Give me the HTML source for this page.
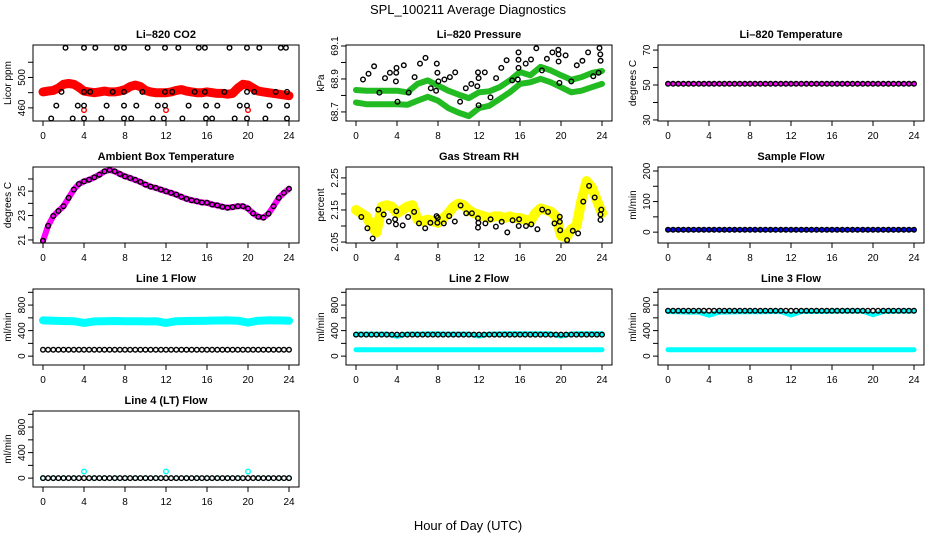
<!DOCTYPE html>
<html><head><meta charset="utf-8"><title>SPL_100211 Average Diagnostics</title>
<style>
html,body{margin:0;padding:0;background:#fff;}
svg{display:block;font-family:"Liberation Sans",Arial,sans-serif;}
</style></head>
<body>
<svg id="chart" width="936" height="540" viewBox="0 0 936 540" xmlns="http://www.w3.org/2000/svg">
<rect x="0" y="0" width="936" height="540" fill="#fff"/>
<text x="468" y="14" text-anchor="middle" font-size="13">SPL_100211  Average Diagnostics</text>
<text x="468" y="530" text-anchor="middle" font-size="13">Hour of Day (UTC)</text>
</svg>
<script>
const hours=[0,1,2,3,4,5,6,7,8,9,10,11,12,13,14,15,16,17,18,19,20,21,22,23,24];
const halfHours=[0,0.5,1,1.5,2,2.5,3,3.5,4,4.5,5,5.5,6,6.5,7,7.5,8,8.5,9,9.5,10,10.5,11,11.5,12,12.5,13,13.5,14,14.5,15,15.5,16,16.5,17,17.5,18,18.5,19,19.5,20,20.5,21,21.5,22,22.5,23,23.5,24];
const xTicks=[0,4,8,12,16,20,24];

// CO2
const co2Red=[481,482,483,486,491,492,491,487,482,481,480,481,482,481,481,482,484,488,490,488,483,481,480,480,480,481,483,484,482,481,480,480,481,480,479,479,478,479,486,491,490,486,482,481,480,479,478,477,476];
const co2RedOutHours=[4,12,20];
const co2RedOutVals=[457,457,457];
const co2BlackHours=[2.2,4.0,5.1,7.2,7.9,10.2,11.9,13.2,15.2,15.8,18.2,19.9,21.1,23.2,23.7,1.8,4.0,4.6,6.8,7.9,9.7,11.9,12.6,14.8,15.8,17.7,19.9,20.6,22.7,23.8,1.3,3.4,4.0,6.2,7.9,9.1,11.2,11.9,14.2,15.9,17.0,19.2,19.9,22.1,23.8,0.8,2.9,4.0,5.7,7.9,8.6,10.7,11.8,13.6,15.9,16.5,18.7,19.9,21.7,23.8];
const co2BlackVals=[539,539,539,539,539,539,539,539,539,539,539,539,539,539,539,481,481,481,481,481,481,481,481,481,481,481,481,481,481,481,463,463,463,463,463,463,463,463,463,463,463,463,463,463,463,446,446,446,446,446,446,446,446,446,446,446,446,446,446,446];

// Pressure
const presUpper=[68.833,68.829,68.829,68.829,68.829,68.819,68.870,68.891,68.860,68.829,68.805,68.784,68.819,68.825,68.850,68.891,68.942,68.922,68.973,68.952,68.922,68.895,68.911,68.936,68.948];
const presLower=[68.757,68.747,68.747,68.747,68.747,68.743,68.768,68.792,68.768,68.723,68.696,68.675,68.723,68.737,68.778,68.819,68.870,68.880,68.901,68.880,68.850,68.819,68.829,68.850,68.870];
const presBlackHours=[0.68,1.22,1.77,2.28,2.83,3.31,3.95,3.92,3.89,4.05,4.66,5.14,5.72,6.24,6.78,7.30,7.81,7.88,7.94,8.04,8.62,9.16,9.68,10.16,10.71,11.25,11.83,11.90,11.96,11.96,12.57,13.12,13.67,14.18,14.69,15.24,15.79,15.85,15.85,15.85,16.56,17.07,17.59,18.14,18.62,19.16,19.74,19.77,19.77,19.84,20.45,21.0,21.54,22.09,22.64,23.15,23.67,23.76,23.83,23.86];
const presBlackVals=[68.897,68.932,68.977,68.817,68.905,68.938,68.967,68.938,68.885,68.762,68.983,68.817,68.911,68.993,69.028,68.844,68.829,68.993,68.938,68.885,68.897,68.911,68.940,68.762,68.844,68.870,68.856,68.940,68.905,68.741,68.940,68.788,68.905,68.967,69.014,68.891,68.897,69.061,69.016,68.967,68.993,69.018,69.086,68.952,69.022,69.061,69.077,69.049,69.006,68.876,69.043,68.885,68.983,69.010,69.061,68.917,68.938,69.088,69.049,69.010];

// Li-820 temperature
const tempBand=[50.7,50.7,50.7,50.7,50.7,50.7,50.7,50.7,50.7,50.7,50.7,50.7,50.7,50.7,50.7,50.7,50.7,50.7,50.7,50.7,50.7,50.7,50.7,50.7,50.7];
const tempBlack=[50.7,50.7,50.7,50.7,50.7,50.7,50.7,50.7,50.7,50.7,50.7,50.7,50.7,50.7,50.7,50.7,50.7,50.7,50.7,50.7,50.7,50.7,50.7,50.7,50.7,50.7,50.7,50.7,50.7,50.7,50.7,50.7,50.7,50.7,50.7,50.7,50.7,50.7,50.7,50.7,50.7,50.7,50.7,50.7,50.7,50.7,50.7,50.7,50.7];

// Ambient box temperature
const ambient=[20.93,22.15,22.96,23.37,23.77,24.45,25.13,25.59,25.80,25.94,26.13,26.35,26.62,26.73,26.62,26.41,26.21,26.08,25.92,25.76,25.54,25.37,25.27,25.13,24.99,24.86,24.72,24.53,24.37,24.26,24.18,24.07,24.05,23.91,23.83,23.72,23.64,23.69,23.77,23.77,23.58,23.18,22.91,22.83,23.15,23.77,24.45,24.86,25.19];

// RH
const rhYellow=[2.15,2.14,2.13,2.10,2.08,2.16,2.165,2.16,2.14,2.15,2.16,2.165,2.12,2.115,2.12,2.115,2.11,2.125,2.14,2.16,2.17,2.165,2.15,2.14,2.135,2.13,2.125,2.13,2.13,2.125,2.13,2.125,2.125,2.12,2.115,2.14,2.155,2.15,2.145,2.13,2.07,2.065,2.09,2.10,2.18,2.24,2.22,2.18,2.14];
const rhBlackHours=[0.52,1.11,1.63,2.18,2.70,3.21,3.81,3.89,3.93,4.56,5.08,5.67,6.15,6.75,7.26,7.86,7.94,7.98,8.57,9.09,9.64,10.20,10.75,11.31,11.90,11.90,11.94,12.62,13.13,13.65,14.21,14.76,15.28,15.87,15.91,16.59,17.10,17.70,18.17,18.73,19.37,19.88,19.88,19.92,20.60,21.15,21.67,22.18,22.74,23.29,23.85,23.85,23.93];
const rhBlackVals=[2.128,2.093,2.061,2.151,2.136,2.114,2.121,2.105,2.146,2.102,2.128,2.144,2.108,2.093,2.110,2.131,2.110,2.126,2.108,2.131,2.114,2.164,2.140,2.140,2.124,2.095,2.110,2.108,2.121,2.098,2.113,2.080,2.118,2.100,2.121,2.100,2.105,2.090,2.151,2.144,2.108,2.129,2.113,2.087,2.056,2.085,2.077,2.176,2.225,2.189,2.136,2.119,2.151];

// Sample flow
const sampleBand=[8,8,8,8,8,8,8,8,8,8,8,8,8,8,8,8,8,8,8,8,8,8,8,8,8];
const sampleBlack=[8,8,8,8,8,8,8,8,8,8,8,8,8,8,8,8,8,8,8,8,8,8,8,8,8,8,8,8,8,8,8,8,8,8,8,8,8,8,8,8,8,8,8,8,8,8,8,8,8];

// Line flows
const l1Cyan=[560,555,550,548,520,545,548,550,548,546,545,548,520,548,550,552,555,558,560,555,525,555,560,560,555];
const l1Black=[100,100,100,100,100,100,100,100,100,100,100,100,100,100,100,100,100,100,100,100,100,100,100,100,100,100,100,100,100,100,100,100,100,100,100,100,100,100,100,100,100,100,100,100,100,100,100,100,100];
const l2CyanHigh=[345,345,345,345,310,345,345,348,348,345,345,345,315,345,348,350,350,350,350,348,315,348,350,350,350];
const l2CyanLow=[100,100,100,100,100,100,100,100,100,100,100,100,100,100,100,100,100,100,100,100,100,100,100,100,100];
const l2Black=[338,338,338,338,338,338,338,338,338,338,338,338,338,338,338,338,338,338,338,338,338,338,338,338,338,338,338,338,338,338,338,338,338,338,338,338,338,338,338,338,338,338,338,338,338,338,338,338,338];
const l3CyanHigh=[700,695,690,690,640,690,692,695,695,695,698,700,645,700,700,700,702,705,705,705,650,700,702,705,705];
const l3CyanLow=[100,100,100,100,100,100,100,100,100,100,100,100,100,100,100,100,100,100,100,100,100,100,100,100,100];
const l3Black=[712,712,712,712,712,712,712,712,712,712,712,712,712,712,712,712,712,712,712,712,712,712,712,712,712,712,712,712,712,712,712,712,712,712,712,712,712,712,712,712,712,712,712,712,712,712,712,712,712];
const l4Cyan=[0,0,0,0,104,0,0,0,0,0,0,0,104,0,0,0,0,0,0,0,104,0,0,0,0];
const l4Black=[0,0,0,0,0,0,0,0,0,0,0,0,0,0,0,0,0,0,0,0,0,0,0,0,0,0,0,0,0,0,0,0,0,0,0,0,0,0,0,0,0,0,0,0,0,0,0,0,0];

const NS='http://www.w3.org/2000/svg';
const svg=document.getElementById('chart');
function mk(tag,attrs,parent){const e=document.createElementNS(NS,tag);for(const k in attrs)e.setAttribute(k,attrs[k]);(parent||svg).appendChild(e);return e;}

const colX=[33,346,658], rowY=[45,167,289,411], BW=266, BH=76;

function panel(slug,title,ylab,col,row,ylim,yticks,ylabels){
  const g=mk('g',{});
  
  
  const x=colX[col], y=rowY[row];
  const sx=h=>x+10+h/24*(BW-20);
  const sy=v=>y+BH-(v-ylim[0])/(ylim[1]-ylim[0])*BH;
  const t=mk('text',{x:x+BW/2,y:y-7,'text-anchor':'middle','font-size':11,'font-weight':'bold'},g);
  t.textContent=title;
  
  
  const yl=mk('text',{x:0,y:0,'text-anchor':'middle','font-size':10,transform:'translate('+(x-22)+','+(y+BH/2)+') rotate(-90)'},g);
  yl.textContent=ylab;
  
  
  const xa=mk('g',{},g);
  
  
  mk('line',{x1:sx(0),x2:sx(24),y1:y+BH,y2:y+BH,stroke:'#000','stroke-width':1},xa);
  xTicks.forEach(h=>{
    mk('line',{x1:sx(h),x2:sx(h),y1:y+BH,y2:y+BH+5,stroke:'#000','stroke-width':1},xa);
    const lt=mk('text',{x:sx(h),y:y+BH+18,'text-anchor':'middle','font-size':10},xa);
    lt.textContent=h;
    
    
  });
  const ya=mk('g',{},g);
  
  
  mk('line',{x1:x,x2:x,y1:sy(yticks[0]),y2:sy(yticks[yticks.length-1]),stroke:'#000','stroke-width':1},ya);
  yticks.forEach(v=>{
    mk('line',{x1:x-5,x2:x,y1:sy(v),y2:sy(v),stroke:'#000','stroke-width':1},ya);
  });
  ylabels.forEach(v=>{
    const lt=mk('text',{x:0,y:0,'text-anchor':'middle','font-size':10,transform:'translate('+(x-8)+','+sy(v)+') rotate(-90)'},ya);
    lt.textContent=v;
    
    
  });
  const plot=mk('g',{},g);
  
  
  const box=mk('rect',{x:x,y:y,width:BW,height:BH,fill:'none',stroke:'#000','stroke-width':1},g);
  
  
  g.appendChild(box);
  return {sx,sy,plot};
}
function band(p,name,xs,vals,color,w){
  const pts=vals.map((v,i)=>p.sx(xs[i]).toFixed(1)+','+p.sy(v).toFixed(1)).join(' ');
  const pl=mk('polyline',{points:pts,fill:'none',stroke:color,'stroke-width':w,'stroke-linejoin':'round','stroke-linecap':'round'},p.plot);
  
  
}
function pts(p,name,xs,vals,color,r){
  const g=mk('g',{},p.plot);
  
  
  vals.forEach((v,i)=>{
    const c=mk('circle',{cx:p.sx(xs[i]).toFixed(1),cy:p.sy(v).toFixed(1),r:r||2.3,fill:'none',stroke:color,'stroke-width':1.4},g);
    
    
  });
}

// Li-820 CO2
let p=panel('co2','Li\u2013820 CO2','Licor ppm',0,0,[442.7,542.7],[460,480,500,520],[460,500]);
band(p,'co2-red-series',halfHours,co2Red,'#ff0000',9);
pts(p,'co2-red-outliers',co2RedOutHours,co2RedOutVals,'#ff0000');
pts(p,'co2-black-series',co2BlackHours,co2BlackVals,'#000');

// Pressure
p=panel('pressure','Li\u2013820 Pressure','kPa',1,0,[68.645,69.106],[68.7,68.8,68.9,69.0,69.1],[68.7,68.9,69.1]);
band(p,'pressure-upper-series',hours,presUpper,'#22bb22',6);
band(p,'pressure-lower-series',hours,presLower,'#22bb22',6);
pts(p,'pressure-black-series',presBlackHours,presBlackVals,'#000');

// Li-820 temperature
p=panel('li820-temp','Li\u2013820 Temperature','degrees C',2,0,[29.4,72.9],[30,40,50,60,70],[30,50,70]);
band(p,'li820-temp-magenta-series',hours,tempBand,'#ff00ff',4);
pts(p,'li820-temp-black-series',halfHours,tempBlack,'#000');

// Ambient
p=panel('ambient','Ambient Box Temperature','degrees C',0,1,[20.75,26.98],[21,22,23,24,25,26],[21,23,25]);
band(p,'ambient-magenta-series',halfHours,ambient,'#ff00ff',6);
pts(p,'ambient-black-series',halfHours,ambient,'#000');

// RH
p=panel('rh','Gas Stream RH','percent',1,1,[2.047,2.284],[2.05,2.10,2.15,2.20,2.25],['2.05','2.15','2.25']);
band(p,'rh-yellow-series',halfHours,rhYellow,'#ffff00',10);
pts(p,'rh-black-series',rhBlackHours,rhBlackVals,'#000');

// Sample flow
p=panel('sample-flow','Sample Flow','ml/min',2,1,[-35.5,213],[0,50,100,150,200],[0,100,200]);
band(p,'sample-flow-blue-series',hours,sampleBand,'#0000ff',4);
pts(p,'sample-flow-black-series',halfHours,sampleBlack,'#000');

const flowLim=[-139,1052], flowTicks=[0,200,400,600,800,1000], flowLabels=[0,400,800];
p=panel('line1-flow','Line 1 Flow','ml/min',0,2,flowLim,flowTicks,flowLabels);
band(p,'line1-cyan-series',hours,l1Cyan,'#00ffff',8);
pts(p,'line1-black-series',halfHours,l1Black,'#000');

p=panel('line2-flow','Line 2 Flow','ml/min',1,2,flowLim,flowTicks,flowLabels);
band(p,'line2-cyan-high-series',hours,l2CyanHigh,'#00ffff',5);
band(p,'line2-cyan-low-series',hours,l2CyanLow,'#00ffff',5);
pts(p,'line2-black-series',halfHours,l2Black,'#000');

p=panel('line3-flow','Line 3 Flow','ml/min',2,2,flowLim,flowTicks,flowLabels);
band(p,'line3-cyan-high-series',hours,l3CyanHigh,'#00ffff',5);
band(p,'line3-cyan-low-series',hours,l3CyanLow,'#00ffff',5);
pts(p,'line3-black-series',halfHours,l3Black,'#000');

p=panel('line4-flow','Line 4 (LT) Flow','ml/min',0,3,flowLim,flowTicks,flowLabels);
pts(p,'line4-cyan-series',hours,l4Cyan,'#00ffff');
pts(p,'line4-black-series',halfHours,l4Black,'#000');
</script>
</body></html>
